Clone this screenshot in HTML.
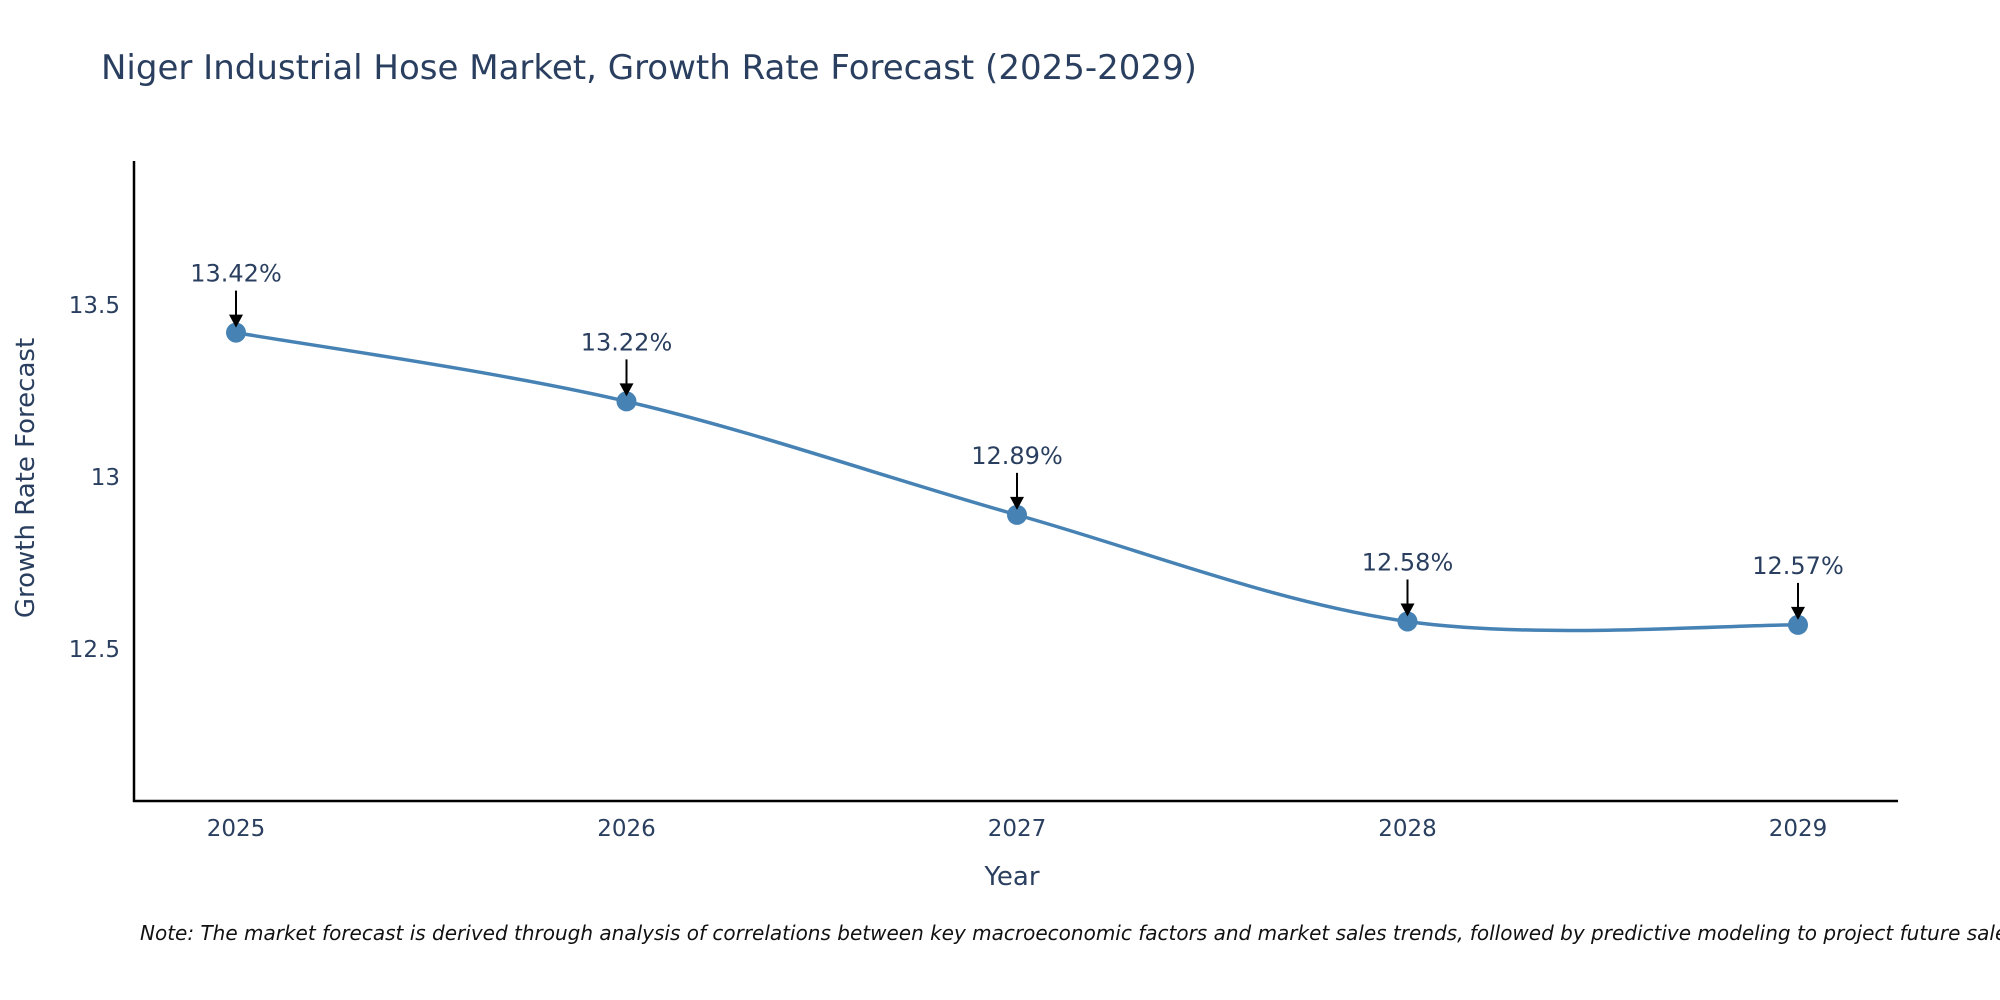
<!DOCTYPE html>
<html><head><meta charset="utf-8"><style>
body{margin:0;background:#fff;}
svg{display:block;font-family:"DejaVu Sans","Liberation Sans",sans-serif;}
</style></head><body>
<svg id="chart" width="2000" height="1000">
<text x="101" y="79" font-size="34" fill="#2a3f5f">Niger Industrial Hose Market, Growth Rate Forecast (2025-2029)</text>
<g id="plot"></g>
<text x="1012" y="885" font-size="26" fill="#2a3f5f" text-anchor="middle">Year</text>
<text transform="translate(34,478) rotate(-90)" font-size="26" fill="#2a3f5f" text-anchor="middle">Growth Rate Forecast</text>
<text x="140" y="940" font-size="20" font-style="italic" fill="#111">Note: The market forecast is derived through analysis of correlations between key macroeconomic factors and market sales trends, followed by predictive modeling to project future sales.</text>
</svg>
<script>
const years = [2025, 2026, 2027, 2028, 2029];
const growth = [13.42, 13.22, 12.89, 12.58, 12.57];
const yTicks = [12.5, 13, 13.5];
const yTickLabels = ["12.5", "13", "13.5"];
const NS = "http://www.w3.org/2000/svg";
const g = document.getElementById("plot");
const x0 = 236, x1 = 1798, yTop = 161, yBot = 801;
const yMin = 12.058, yMax = 13.919;
function xs(v){ return x0 + (v - years[0]) / (years[years.length-1] - years[0]) * (x1 - x0); }
function ys(v){ return yBot - (v - yMin) / (yMax - yMin) * (yBot - yTop); }
function mk(tag, attrs){ const e = document.createElementNS(NS, tag); for (const k in attrs) e.setAttribute(k, attrs[k]); g.appendChild(e); return e; }
let ax = mk("line",{x1:134,y1:yTop,x2:134,y2:yBot+1,stroke:"#000","stroke-width":2.5});


let bx = mk("line",{x1:133,y1:yBot,x2:1898,y2:yBot,stroke:"#000","stroke-width":2.5});


yTicks.forEach((t,i)=>{
  const e = mk("text",{x:120,y:ys(t)+8,"font-size":23,fill:"#2a3f5f","text-anchor":"end"});
  e.textContent = yTickLabels[i];
  
  
});
years.forEach(yr=>{
  const e = mk("text",{x:xs(yr),y:836,"font-size":23,fill:"#2a3f5f","text-anchor":"middle"});
  e.textContent = String(yr);
  
  
});
const pts = years.map((yr,i)=>[xs(yr), ys(growth[i])]);
let d = "M"+pts[0][0]+","+pts[0][1];
const tension = 0.5;
for (let i=0;i<pts.length-1;i++){
  const p0 = pts[Math.max(0,i-1)], p1 = pts[i], p2 = pts[i+1], p3 = pts[Math.min(pts.length-1,i+2)];
  const c1x = p1[0] + (p2[0]-p0[0])*tension/3, c1y = p1[1] + (p2[1]-p0[1])*tension/3;
  const c2x = p2[0] - (p3[0]-p1[0])*tension/3, c2y = p2[1] - (p3[1]-p1[1])*tension/3;
  d += " C"+c1x+","+c1y+" "+c2x+","+c2y+" "+p2[0]+","+p2[1];
}
const line = mk("path",{d:d,fill:"none",stroke:"#4682b4","stroke-width":3.5});


pts.forEach((p,i)=>{
  const c = mk("circle",{cx:p[0],cy:p[1],r:10,fill:"#4682b4"});
  
  
  const a = mk("line",{x1:p[0],y1:p[1]-42,x2:p[0],y2:p[1]-16,stroke:"#000","stroke-width":2});
  
  
  const h = mk("polygon",{points:(p[0]-7)+","+(p[1]-18)+" "+(p[0]+7)+","+(p[1]-18)+" "+p[0]+","+(p[1]-5),fill:"#000"});
  
  
  const t = mk("text",{x:p[0],y:p[1]-51,"font-size":24,fill:"#2a3f5f","text-anchor":"middle"});
  t.textContent = growth[i].toFixed(2)+"%";
  
  
});
</script>
</body></html>
